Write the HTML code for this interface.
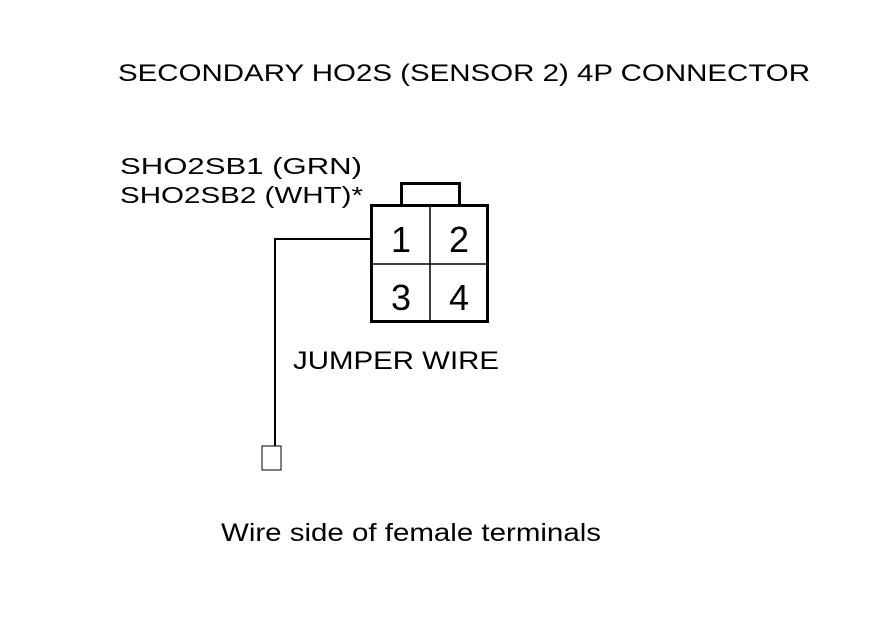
<!DOCTYPE html>
<html><head><style>
body{margin:0;background:#fff;}
svg text{font-family:"Liberation Sans",Arial,sans-serif;fill:#000;}
</style></head><body>
<svg width="880" height="630" viewBox="0 0 880 630" xmlns="http://www.w3.org/2000/svg">
<rect width="880" height="630" fill="#fff"/>
<text x="118" y="81" font-size="24" textLength="692" lengthAdjust="spacingAndGlyphs">SECONDARY HO2S (SENSOR 2) 4P CONNECTOR</text>
<text x="120" y="174" font-size="23" textLength="242" lengthAdjust="spacingAndGlyphs">SHO2SB1 (GRN)</text>
<text x="120" y="203" font-size="23" textLength="243" lengthAdjust="spacingAndGlyphs">SHO2SB2 (WHT)*</text>
<polyline points="401.5,205 401.5,183.5 459.5,183.5 459.5,205" fill="none" stroke="#000" stroke-width="3"/>
<rect x="371.5" y="205.5" width="116" height="116" fill="none" stroke="#000" stroke-width="3"/>
<line x1="430" y1="206" x2="430" y2="321" stroke="#000" stroke-width="1.5"/>
<line x1="372" y1="264" x2="487" y2="264" stroke="#000" stroke-width="1.5"/>
<text x="401" y="252" font-size="36" text-anchor="middle">1</text>
<text x="459" y="252" font-size="36" text-anchor="middle">2</text>
<text x="401" y="310" font-size="36" text-anchor="middle">3</text>
<text x="459" y="310" font-size="36" text-anchor="middle">4</text>
<polyline points="372,239 275,239 275,446" fill="none" stroke="#000" stroke-width="2"/>
<rect x="262" y="446" width="19" height="24" fill="none" stroke="#000" stroke-width="1"/>
<text x="293" y="369" font-size="25" textLength="206" lengthAdjust="spacingAndGlyphs">JUMPER WIRE</text>
<text x="221" y="541" font-size="25" textLength="380" lengthAdjust="spacingAndGlyphs">Wire side of female terminals</text>
</svg>
</body></html>
